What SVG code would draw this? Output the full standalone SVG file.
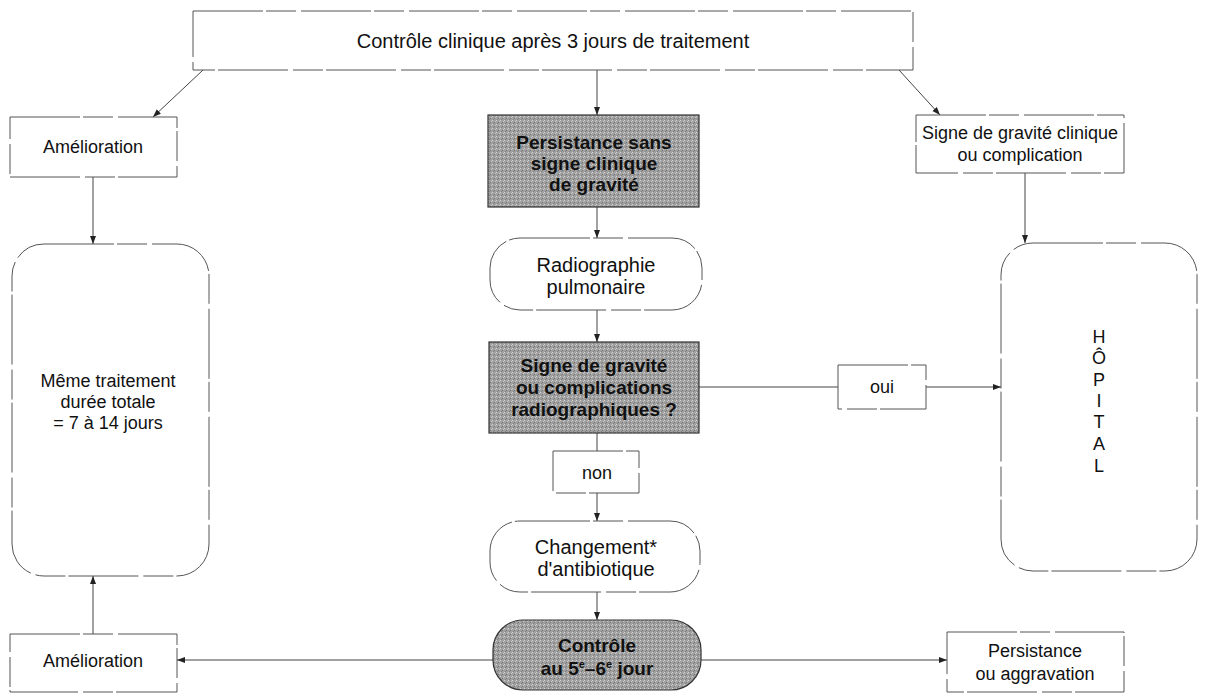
<svg xmlns="http://www.w3.org/2000/svg" width="1224" height="694" viewBox="0 0 1224 694">
<defs>
<marker id="ah" viewBox="0 0 8 8" refX="8" refY="4" markerWidth="8" markerHeight="8" markerUnits="userSpaceOnUse" orient="auto">
<path d="M0,1 L8,4 L0,7 Z" fill="#222"/>
</marker>
<pattern id="ht" width="4" height="4" patternUnits="userSpaceOnUse">
<rect width="4" height="4" fill="#a0a0a0"/>
<rect x="0" y="0" width="1" height="1" fill="#d4d4d4"/>
<rect x="2" y="2" width="1" height="1" fill="#737373"/>
<rect x="3" y="1" width="1" height="1" fill="#c4c4c4"/>
<rect x="1" y="3" width="1" height="1" fill="#828282"/>
</pattern>
</defs>
<style>
.box{fill:#fff;stroke:#555;stroke-width:1;stroke-dasharray:70 3 30 5}
.gray{fill:url(#ht);stroke:#333;stroke-width:1.2}
.t{font-family:"Liberation Sans",Arial,sans-serif;font-size:18px;fill:#111;text-anchor:middle}
.l{font-size:20px}
.b{font-family:"Liberation Sans",Arial,sans-serif;font-size:19px;font-weight:bold;fill:#111;text-anchor:middle}
.c{fill:none;stroke:#444;stroke-width:1}
.a{marker-end:url(#ah)}
</style>
<rect width="1224" height="694" fill="#fff"/>

<g id="connectors">
<line class="c a" x1="203" y1="70" x2="153" y2="117"/>
<line class="c a" x1="597" y1="70" x2="597" y2="115"/>
<line class="c a" x1="899" y1="70" x2="940" y2="115"/>
<line class="c a" x1="93" y1="177" x2="93" y2="244"/>
<line class="c a" x1="1025" y1="172" x2="1025" y2="243"/>
<line class="c a" x1="597" y1="207" x2="597" y2="238"/>
<line class="c a" x1="597" y1="310" x2="597" y2="342"/>
<line class="c" x1="699" y1="387" x2="838" y2="387"/>
<line class="c a" x1="926" y1="387" x2="1001" y2="387"/>
<line class="c" x1="597" y1="433" x2="597" y2="451"/>
<line class="c a" x1="597" y1="493" x2="597" y2="521"/>
<line class="c a" x1="597" y1="592" x2="597" y2="620"/>
<line class="c a" x1="493" y1="660" x2="177" y2="660"/>
<line class="c a" x1="701" y1="660" x2="947" y2="660"/>
<line class="c a" x1="93" y1="634" x2="93" y2="576"/>
</g>

<g id="n-controle3j">
<rect class="box" x="193" y="11" width="720" height="59"/>
<text class="t l" x="553" y="48">Contrôle clinique après 3 jours de traitement</text>
</g>

<g id="n-amelioration1">
<rect class="box" x="10" y="117" width="167" height="60"/>
<text class="t" x="93" y="153">Amélioration</text>
</g>

<g id="n-persistance">
<rect class="gray" x="488" y="115" width="211" height="92"/>
<text class="b" x="594" y="149">Persistance sans</text>
<text class="b" x="594" y="170">signe clinique</text>
<text class="b" x="594" y="191">de gravité</text>
</g>

<g id="n-signeclinique">
<rect class="box" x="916" y="115" width="208" height="58"/>
<text class="t" x="1020" y="139">Signe de gravité clinique</text>
<text class="t" x="1020" y="161">ou complication</text>
</g>

<g id="n-meme">
<rect class="box" x="12" y="244" width="197" height="332" rx="32"/>
<text class="t" x="108" y="387">Même traitement</text>
<text class="t" x="108" y="408">durée totale</text>
<text class="t" x="108" y="429">= 7 à 14 jours</text>
</g>

<g id="n-radio">
<rect class="box" x="490" y="238" width="212" height="72" rx="30"/>
<text class="t l" x="596" y="272">Radiographie</text>
<text class="t l" x="596" y="294">pulmonaire</text>
</g>

<g id="n-signeradio">
<rect class="gray" x="489" y="342" width="210" height="91"/>
<text class="b" x="594" y="372">Signe de gravité</text>
<text class="b" x="594" y="394">ou complications</text>
<text class="b" x="594" y="416">radiographiques ?</text>
</g>

<g id="n-oui">
<rect class="box" x="838" y="365" width="88" height="44"/>
<text class="t" x="882" y="393">oui</text>
</g>

<g id="n-hopital">
<rect class="box" x="1001" y="243" width="196" height="328" rx="32"/>
<text class="t" x="1099" y="343">H</text>
<text class="t" x="1099" y="364">Ô</text>
<text class="t" x="1099" y="386">P</text>
<text class="t" x="1099" y="407">I</text>
<text class="t" x="1099" y="428">T</text>
<text class="t" x="1099" y="450">A</text>
<text class="t" x="1099" y="472">L</text>
</g>

<g id="n-non">
<rect class="box" x="553" y="451" width="86" height="42"/>
<text class="t" x="597" y="479">non</text>
</g>

<g id="n-changement">
<rect class="box" x="490" y="521" width="210" height="71" rx="30"/>
<text class="t l" x="596" y="554">Changement*</text>
<text class="t l" x="596" y="576">d'antibiotique</text>
</g>

<g id="n-controle56">
<rect class="gray" x="493" y="620" width="208" height="70" rx="30"/>
<text class="b" x="597" y="652">Contrôle</text>
<text class="b" x="597" y="675">au 5<tspan font-size="11" dy="-7">e</tspan><tspan dy="7">–6</tspan><tspan font-size="11" dy="-7">e</tspan><tspan dy="7"> jour</tspan></text>
</g>

<g id="n-amelioration2">
<rect class="box" x="10" y="634" width="167" height="58"/>
<text class="t" x="93" y="667">Amélioration</text>
</g>

<g id="n-persistance2">
<rect class="box" x="947" y="632" width="177" height="60"/>
<text class="t" x="1035" y="657">Persistance</text>
<text class="t" x="1035" y="680">ou aggravation</text>
</g>
</svg>
